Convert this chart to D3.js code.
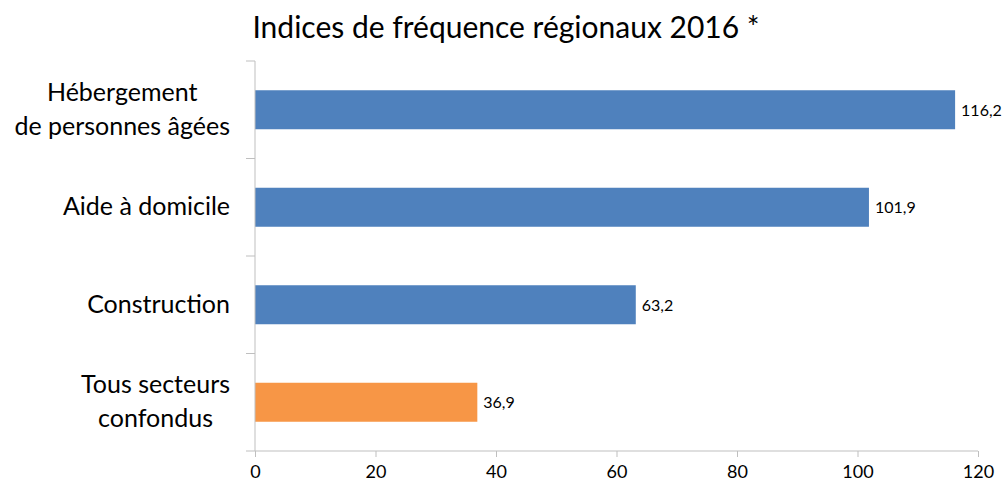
<!DOCTYPE html>
<html>
<head>
<meta charset="utf-8">
<script src="https://cdn.jsdelivr.net/npm/d3@7"></script>
<style>
  body { margin: 0; background: #fff; }
  text { font-family: Lato, "Open Sans", sans-serif; fill: #000; }
</style>
</head>
<body>
<div id="container"></div>
<script>
// data
var categories = [
  ["Hébergement", "de personnes âgées"],
  ["Aide à domicile"],
  ["Construction"],
  ["Tous secteurs", "confondus"]
];
var values = [116.2, 101.9, 63.2, 36.9];
var barColors = ["#4F81BD", "#4F81BD", "#4F81BD", "#F79646"];
var xTicks = [0, 20, 40, 60, 80, 100, 120];
var title = "Indices de fréquence régionaux 2016 *";

var width = 1006, height = 484;
var plotLeft = 255, plotRight = 978, plotTop = 61, plotBottom = 451;

var svg = d3.select("#container").append("svg")
  .attr("width", width)
  .attr("height", height);

var x = d3.scaleLinear().domain([0, 120]).range([plotLeft, plotRight]);
var y = d3.scaleBand().domain(d3.range(categories.length)).range([plotTop, plotBottom]).padding(0);

var fr = d3.formatLocale({ decimal: ",", thousands: " ", grouping: [3], currency: ["", " €"] });
var fmt = fr.format(".1f");

var axisColor = "#BFBFBF";

// title
svg.append("text")
  .attr("x", 506)
  .attr("y", 38)
  .attr("text-anchor", "middle")
  .style("font-size", "30px")
  .text(title);

// bars
var barH = y.bandwidth() * 0.4;
svg.selectAll("rect.bar")
  .data(values)
  .enter()
  .append("rect")
  .attr("class", "bar")
  .attr("x", x(0))
  .attr("y", function(d, i) { return y(i) + (y.bandwidth() - barH) / 2; })
  .attr("width", function(d) { return x(d) - x(0); })
  .attr("height", barH)
  .attr("fill", function(d, i) { return barColors[i]; });

// value labels
svg.selectAll("text.val")
  .data(values)
  .enter()
  .append("text")
  .attr("class", "val")
  .attr("x", function(d) { return x(d) + 6; })
  .attr("y", function(d, i) { return y(i) + y.bandwidth() / 2 + 6; })
  .style("font-size", "16px")
  .text(function(d) { return fmt(d); });

// x axis
var xAxis = d3.axisBottom(x)
  .tickValues(xTicks)
  .tickSize(6)
  .tickFormat(function(d) { return d; });
var gx = svg.append("g")
  .attr("transform", "translate(0," + plotBottom + ")")
  .call(xAxis);
gx.select(".domain").remove();
gx.selectAll("line").attr("stroke", axisColor);
gx.selectAll("text")
  .attr("y", 14)
  .style("font-size", "18px")
  .style("font-family", "Lato, 'Open Sans', sans-serif")
  .attr("fill", "#000");
gx.append("line")
  .attr("x1", plotLeft - 9).attr("x2", plotRight)
  .attr("y1", 0).attr("y2", 0)
  .attr("stroke", axisColor);

// y axis line + ticks at band boundaries
svg.append("line")
  .attr("x1", plotLeft).attr("x2", plotLeft)
  .attr("y1", plotTop).attr("y2", plotBottom)
  .attr("stroke", axisColor);
var bounds = d3.range(categories.length).map(function(i) { return y(i); });
svg.selectAll("line.ytick")
  .data(bounds)
  .enter()
  .append("line")
  .attr("class", "ytick")
  .attr("x1", plotLeft - 9).attr("x2", plotLeft)
  .attr("y1", function(d) { return d; })
  .attr("y2", function(d) { return d; })
  .attr("stroke", axisColor);

// category labels: lines centered, block right-aligned
var lineH = 34;
categories.forEach(function(lines, i) {
  var g = svg.append("g");
  var cy = y(i) + y.bandwidth() / 2;
  var texts = lines.map(function(l, j) {
    return g.append("text")
      .attr("y", cy + (j - (lines.length - 1) / 2) * lineH + 8)
      .attr("text-anchor", "middle")
      .style("font-size", "25px")
      .text(l);
  });
  var w = d3.max(texts, function(t) { return t.node().getComputedTextLength(); });
  texts.forEach(function(t) { t.attr("x", 230 - w / 2); });
});
</script>
</body>
</html>
